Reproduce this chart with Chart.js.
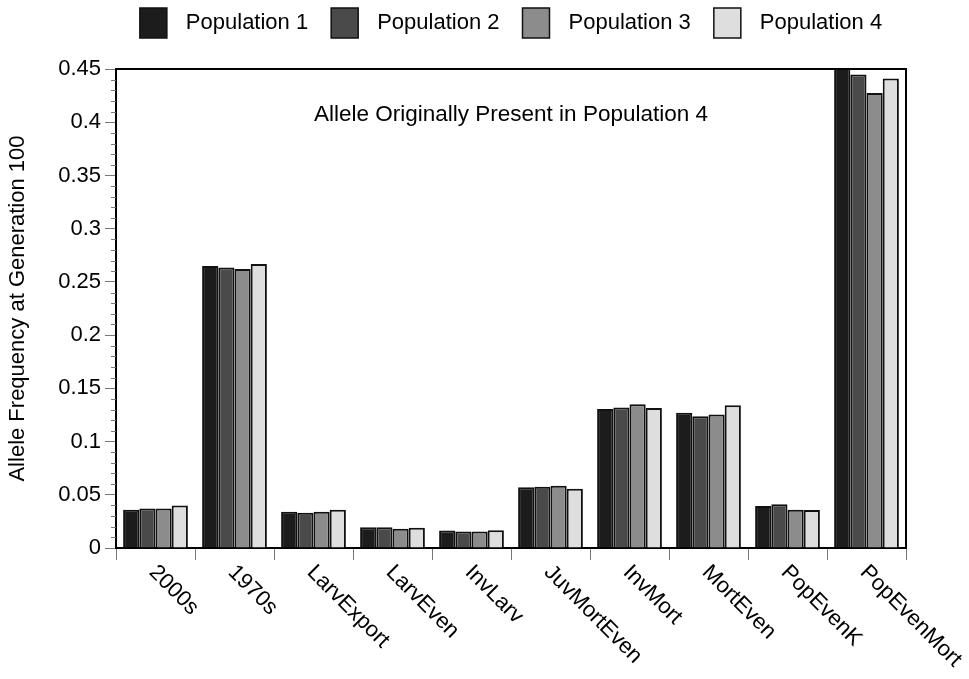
<!DOCTYPE html>
<html>
<head>
<meta charset="utf-8">
<script src="https://cdn.jsdelivr.net/npm/chart.js@4"></script>
<style>
  body { margin: 0; background: #fff; }
  canvas { display: block; }
</style>
</head>
<body>
<canvas id="chart" width="969" height="679"></canvas>
<script>
// Categories and values
const categories = ['2000s', '1970s', 'LarvExport', 'LarvEven', 'InvLarv', 'JuvMortEven', 'InvMort', 'MortEven', 'PopEvenK', 'PopEvenMort'];
const series_names = ['Population 1', 'Population 2', 'Population 3', 'Population 4'];
const pop1 = [0.036, 0.265, 0.034, 0.0195, 0.0165, 0.057, 0.1305, 0.127, 0.0395, 0.451];
const pop2 = [0.037, 0.2635, 0.033, 0.0195, 0.0155, 0.0575, 0.132, 0.1237, 0.041, 0.4448];
const pop3 = [0.037, 0.262, 0.034, 0.018, 0.0155, 0.0585, 0.135, 0.1255, 0.036, 0.4275];
const pop4 = [0.040, 0.2667, 0.036, 0.019, 0.0167, 0.0557, 0.1315, 0.134, 0.0358, 0.441];
const y_ticks = [0, 0.05, 0.1, 0.15, 0.2, 0.25, 0.3, 0.35, 0.4, 0.45];
const chart_title = 'Allele Originally Present in Population 4';
const y_title = 'Allele Frequency at Generation 100';

const fills = ['#1c1c1c', '#4a4a4a', '#8c8c8c', '#dedede'];
const font_family = '"Liberation Sans", Arial, Helvetica, sans-serif';
const font_size = 22;

Chart.defaults.font.family = font_family;
Chart.defaults.color = '#000';

const all_values = [pop1, pop2, pop3, pop4];

// Extra drawing: frame, minor ticks, title, rotated labels, legend
const extras = {
    id: 'extras',
    afterDraw(chart) {
        const ctx = chart.ctx;
        const area = chart.chartArea;
        const xs = chart.scales.x;
        const ys = chart.scales.y;

        ctx.save();

        // Minor ticks on the y axis
        ctx.strokeStyle = '#777';
        ctx.lineWidth = 1;
        for (var i = 0; i <= 45; i++) {
            if (i % 5 === 0) continue;
            const py = Math.round(ys.getPixelForValue(i / 100)) + 0.5;
            ctx.beginPath();
            ctx.moveTo(area.left - 5, py);
            ctx.lineTo(area.left, py);
            ctx.stroke();
        }

        // Top and right part of the frame
        ctx.strokeStyle = '#000';
        ctx.lineWidth = 2;
        ctx.beginPath();
        ctx.moveTo(area.left, area.top);
        ctx.lineTo(area.right, area.top);
        ctx.lineTo(area.right, area.bottom);
        ctx.stroke();

        // Title inside the plot
        ctx.fillStyle = '#000';
        ctx.font = (font_size + 0.5) + 'px ' + font_family;
        ctx.textAlign = 'center';
        ctx.textBaseline = 'middle';
        ctx.fillText(chart_title, (area.left + area.right) / 2, 115);

        // Category labels, turned 45 degrees
        ctx.font = font_size + 'px ' + font_family;
        ctx.textAlign = 'left';
        categories.forEach((name, i) => {
            const px = xs.getPixelForValue(i);
            ctx.save();
            ctx.translate(px - 3, 569);
            ctx.rotate(Math.PI / 4);
            ctx.fillText(name, 0, 0);
            ctx.restore();
        });

        // Legend
        const box_w = 27, box_h = 30, gap = 19, item_gap = 23;
        var total = 0;
        const widths = series_names.map(n => ctx.measureText(n).width);
        widths.forEach(w => { total += box_w + gap + w; });
        total += item_gap * (series_names.length - 1);
        var lx = (area.left + area.right) / 2 - total / 2;
        series_names.forEach((n, i) => {
            ctx.fillStyle = fills[i];
            ctx.fillRect(lx, 8, box_w, box_h);
            ctx.strokeStyle = '#111';
            ctx.lineWidth = 1.5;
            ctx.strokeRect(lx, 8, box_w, box_h);
            ctx.fillStyle = '#000';
            ctx.textBaseline = 'middle';
            ctx.fillText(n, lx + box_w + gap, 23);
            lx += box_w + gap + widths[i] + item_gap;
        });

        ctx.restore();
    }
};

const ctx = document.getElementById('chart');

new Chart(ctx, {
    type: 'bar',
    data: {
        labels: categories,
        datasets: series_names.map((name, i) => ({
            label: name,
            data: all_values[i],
            backgroundColor: fills[i],
            borderColor: '#111',
            borderWidth: 2,
            clip: 0
        }))
    },
    options: {
        responsive: false,
        animation: false,
        layout: {
            padding: { top: 69, right: 63, bottom: 0, left: 0 }
        },
        datasets: {
            bar: {
                categoryPercentage: 0.82,
                barPercentage: 1.0
            }
        },
        plugins: {
            legend: { display: false },
            tooltip: { enabled: false }
        },
        scales: {
            x: {
                type: 'category',
                offset: true,
                grid: {
                    offset: true,
                    drawOnChartArea: false,
                    tickLength: 12,
                    color: '#777',
                    lineWidth: 1
                },
                border: { color: '#000', width: 2 },
                ticks: { display: false },
                afterFit(scale) {
                    scale.height = 131;
                }
            },
            y: {
                min: 0,
                max: 0.45,
                afterBuildTicks(scale) {
                    scale.ticks = y_ticks.map(v => ({ value: v }));
                },
                ticks: {
                    font: { size: font_size },
                    color: '#000',
                    padding: 4,
                    callback: v => String(+v.toFixed(2))
                },
                grid: {
                    drawOnChartArea: false,
                    tickLength: 11,
                    color: '#777',
                    lineWidth: 1
                },
                border: { color: '#000', width: 2 },
                title: {
                    display: true,
                    text: y_title,
                    font: { size: font_size },
                    color: '#000',
                    padding: { top: 5, bottom: 0 }
                },
                afterFit(scale) {
                    scale.width = 116;
                }
            }
        }
    },
    plugins: [extras]
});
</script>
</body>
</html>
